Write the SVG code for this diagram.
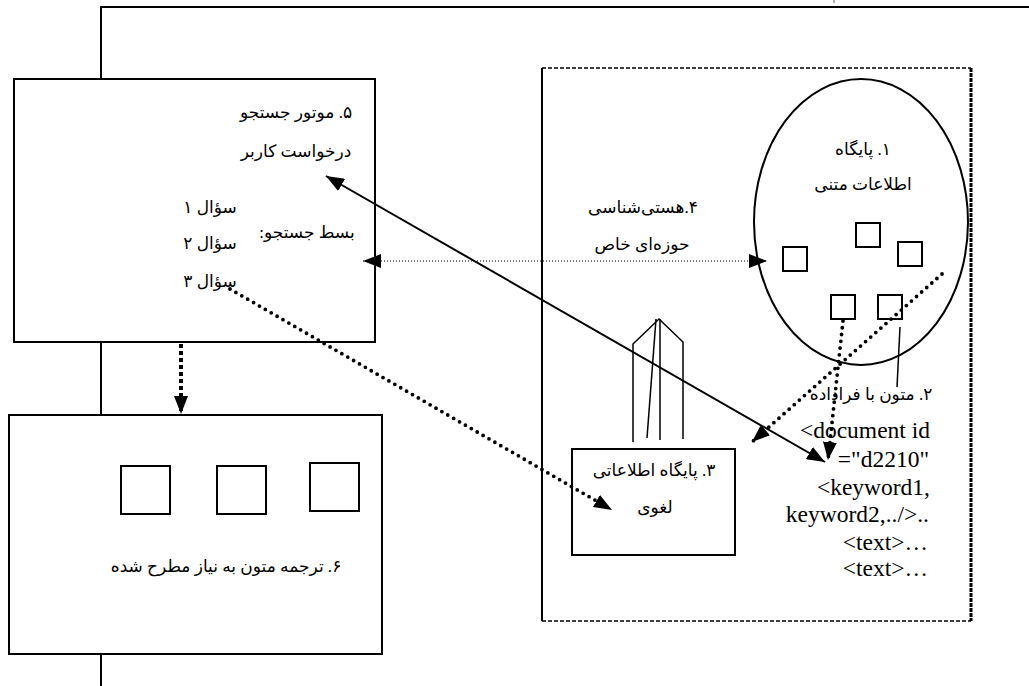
<svg xmlns="http://www.w3.org/2000/svg" width="1029" height="686" viewBox="0 0 1029 686">
<style>
.fa{font-family:"Liberation Serif","DejaVu Sans","Noto Sans",serif;font-size:17px;fill:#000;direction:rtl;text-anchor:middle}
.en{font-family:"Liberation Serif","Times New Roman",serif;font-size:23.5px;fill:#000;text-anchor:end}
.box{fill:#fff;stroke:#000;stroke-width:2}
.sq{fill:none;stroke:#000;stroke-width:2}
.thin{fill:none;stroke:#000;stroke-width:1.5}
.dot{fill:none;stroke:#000;stroke-width:3.8;stroke-linecap:round;stroke-dasharray:0 6.8}
.fine{fill:none;stroke:#000;stroke-width:1;stroke-dasharray:1 2}
</style>
<defs>
<marker id="ah" viewBox="0 0 18 14" refX="18" refY="7" markerUnits="userSpaceOnUse" markerWidth="18" markerHeight="14" orient="auto-start-reverse">
<path d="M0,0 L18,7 L0,14 Z" fill="#000"/>
</marker>
</defs>
<rect width="1029" height="686" fill="#fff"/>
<g id="frame">
<line x1="101" y1="7" x2="1029" y2="7" stroke="#000" stroke-width="2"/>
<line x1="101" y1="6" x2="101" y2="686" stroke="#000" stroke-width="2"/>
<line x1="834" y1="0" x2="834" y2="3" stroke="#666" stroke-width="1"/>
</g>
<g id="region">
<line x1="542" y1="68" x2="542" y2="621" stroke="#000" stroke-width="2"/>
<line x1="542" y1="68" x2="971" y2="68" stroke="#000" stroke-width="1.5" stroke-dasharray="4 2"/>
<line x1="542" y1="621" x2="971" y2="621" stroke="#000" stroke-width="1.5" stroke-dasharray="4 2"/>
<line x1="971" y1="68" x2="971" y2="621" stroke="#000" stroke-width="3" stroke-dasharray="4 1"/>
</g>
<g id="node5">
<rect class="box" x="14" y="79" width="361" height="263"/>
<text class="fa" x="296" y="118">۵. موتور جستجو</text>
<text class="fa" x="296" y="157">درخواست کاربر</text>
<text class="fa" x="210" y="213">سؤال ۱</text>
<text class="fa" x="307" y="238">بسط جستجو:</text>
<text class="fa" x="210" y="249">سؤال ۲</text>
<text class="fa" x="210" y="287">سؤال ۳</text>
</g>
<g id="node6">
<rect class="box" x="9" y="415" width="373" height="239"/>
<rect class="sq" x="121" y="466" width="49" height="48"/>
<rect class="sq" x="217" y="466" width="49" height="48"/>
<rect class="sq" x="310" y="463" width="49" height="48"/>
<text class="fa" x="226" y="572">۶. ترجمه متون به نیاز مطرح شده</text>
</g>
<g id="node1">
<ellipse cx="861" cy="222" rx="107" ry="143" fill="none" stroke="#000" stroke-width="2"/>
<text class="fa" x="863" y="155">۱. پایگاه</text>
<text class="fa" x="863" y="190">اطلاعات متنی</text>
<rect class="sq" x="783" y="247" width="24" height="24"/>
<rect class="sq" x="856" y="223" width="24" height="24"/>
<rect class="sq" x="898" y="242" width="24" height="24"/>
<rect class="sq" x="831" y="295" width="24" height="24"/>
<rect class="sq" x="878" y="295" width="24" height="24"/>
</g>
<g id="node4">
<text class="fa" x="643" y="213">۴.هستی‌شناسی</text>
<text class="fa" x="642" y="250">حوزه‌ای خاص</text>
</g>
<g id="node2">
<line x1="900" y1="327" x2="897" y2="387" stroke="#000" stroke-width="1.5"/>
<text class="fa" x="871" y="400">۲. متون با فراداده</text>
<text class="en" x="930" y="438">&lt;document id</text>
<text class="en" x="929" y="467">="d2210"</text>
<text class="en" x="930" y="495">&lt;keyword1,</text>
<text class="en" x="929" y="522">keyword2,../&gt;..</text>
<text class="en" x="928" y="550">&lt;text&gt;…</text>
<text class="en" x="928" y="576">&lt;text&gt;…</text>
</g>
<g id="node3">
<g class="thin">
<polyline points="633,442 633,344 659,319 683,342 683,439"/>
<line x1="656" y1="319" x2="647" y2="438"/>
<line x1="660" y1="319" x2="660" y2="440"/>
</g>
<rect class="box" x="572" y="449" width="163" height="106"/>
<text class="fa" x="654" y="476">۳. پایگاه اطلاعاتی</text>
<text class="fa" x="655" y="513">لغوی</text>
</g>
<g id="connectors">
<line x1="326" y1="176" x2="825" y2="462" stroke="#000" stroke-width="2" marker-start="url(#ah)" marker-end="url(#ah)"/>
<line class="fine" x1="363" y1="261" x2="767" y2="261" marker-start="url(#ah)" marker-end="url(#ah)"/>
<line x1="181" y1="344" x2="181" y2="414" stroke="#000" stroke-width="4" stroke-dasharray="4 3" marker-end="url(#ah)"/>
<line class="dot" x1="230" y1="289" x2="612" y2="510" marker-end="url(#ah)"/>
<line class="dot" x1="942" y1="274" x2="752" y2="442" marker-end="url(#ah)"/>
<line class="dot" x1="843" y1="321" x2="828" y2="460" marker-end="url(#ah)"/>
</g>
</svg>
